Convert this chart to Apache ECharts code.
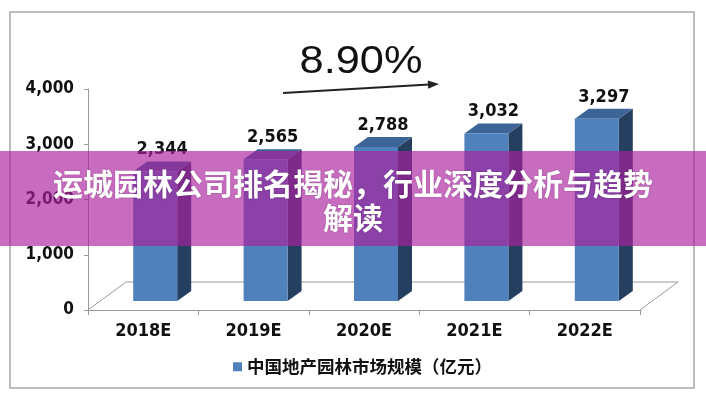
<!DOCTYPE html>
<html>
<head>
<meta charset="utf-8">
<style>
  html, body { margin: 0; padding: 0; background: #fff; }
  #chart { width: 706px; height: 400px; }
</style>
<script src="https://cdn.jsdelivr.net/npm/echarts@6/dist/echarts.min.js"></script>
</head>
<body>
<div id="chart"></div>
<script>
  // 数据
  const categories = ['2018E', '2019E', '2020E', '2021E', '2022E'];
  const marketSize = [2344, 2565, 2788, 3032, 3297];
  const seriesName = '中国地产园林市场规模（亿元）';
  const growthText = '8.90%';
  const titleLines = ['运城园林公司排名揭秘，行业深度分析与趋势', '解读'];

  const numFont = "'DejaVu Sans Condensed', 'Liberation Sans', sans-serif";
  const cjkFont = "'Noto Sans CJK SC', sans-serif";

  const myChart = echarts.init(document.getElementById('chart'));

  const fmt = function (v) {
    return String(v).replace(/\B(?=(\d{3})+(?!\d))/g, ',');
  };

  // 3D柱子
  const renderBar = function (params, api) {
    const idx = api.value(0);
    const v = api.value(1);
    const base = api.coord([idx, 0]);
    const top = api.coord([idx, v]);
    const bw = 44, dx = 14, dy = 10, lift = 9, shift = 12;
    const cx = base[0] + shift;
    const x0 = cx - bw / 2, x1 = cx + bw / 2;
    const yb = base[1] - lift, yt = top[1] - lift;
    return {
      type: 'group',
      children: [
        { type: 'polygon', shape: { points: [[x1, yt], [x1 + dx, yt - dy], [x1 + dx, yb - dy], [x1, yb]] }, style: { fill: '#253f61' } },
        { type: 'polygon', shape: { points: [[x0, yt], [x1, yt], [x1 + dx, yt - dy], [x0 + dx, yt - dy]] }, style: { fill: '#3d6497' } },
        { type: 'rect', shape: { x: x0, y: yt, width: bw, height: yb - yt }, style: { fill: '#4f81bd' } },
        {
          type: 'text',
          style: {
            text: fmt(v), x: (x0 + x1 + dx) / 2, y: yt - dy - 12,
            align: 'center', verticalAlign: 'middle',
            font: 'bold 18px ' + numFont, fill: '#111'
          }
        }
      ]
    };
  };

  // 地板
  const renderFloor = function (params, api) {
    const cs = params.coordSys;
    const bx = cs.x, by = cs.y + cs.height, w = cs.width;
    const fdx = 38, fdy = 28;
    return {
      type: 'polyline',
      shape: { points: [[bx, by], [bx + fdx, by - fdy], [bx + w + fdx, by - fdy], [bx + w, by]] },
      style: { stroke: '#9a9a9a', lineWidth: 1, fill: null },
      silent: true
    };
  };

  const option = {
    backgroundColor: '#fff',
    animation: false,
    grid: { left: 88, right: 66, top: 89, bottom: 90 },
    legend: {
      data: [{ name: seriesName, icon: 'rect' }],
      left: 228,
      top: 353,
      itemWidth: 9,
      itemHeight: 9,
      itemGap: 5,
      textStyle: { fontSize: 17.5, fontWeight: 'bold', color: '#111', fontFamily: cjkFont }
    },
    xAxis: {
      type: 'category',
      data: categories,
      axisLine: { lineStyle: { color: '#9a9a9a', width: 1 } },
      axisTick: { show: true, length: 5, lineStyle: { color: '#9a9a9a' } },
      axisLabel: { margin: 12, fontSize: 18, fontWeight: 'bold', color: '#111', fontFamily: numFont },
      splitLine: { show: false }
    },
    yAxis: {
      type: 'value',
      min: 0,
      max: 4000,
      interval: 1000,
      axisLine: { show: true, lineStyle: { color: '#9a9a9a', width: 1 } },
      axisTick: { show: true, length: 4, lineStyle: { color: '#9a9a9a' } },
      axisLabel: {
        margin: 14, fontSize: 17, fontWeight: 'bold', color: '#111', fontFamily: numFont,
        formatter: function (v) { return fmt(v); }
      },
      splitLine: { show: false }
    },
    series: [
      {
        name: 'floor',
        type: 'custom',
        renderItem: renderFloor,
        data: [[0, 0]],
        silent: true,
        z: 1
      },
      {
        name: seriesName,
        type: 'custom',
        renderItem: renderBar,
        itemStyle: { color: '#4f81bd' },
        encode: { x: 0, y: 1 },
        data: marketSize.map(function (v, i) { return [i, v]; }),
        z: 2
      }
    ],
    graphic: [
      {
        type: 'rect', z: 0,
        shape: { x: 10, y: 12, width: 684, height: 376 },
        style: { fill: null, stroke: '#a6a6a6', lineWidth: 1.5 }
      },
      {
        type: 'text', z: 50,
        x: 361, y: 63, scaleX: 1.14,
        style: {
          text: growthText, x: 0, y: 0, align: 'center', verticalAlign: 'middle',
          font: 'normal 38px "Liberation Sans", Arial, sans-serif', fill: '#111'
        }
      },
      {
        type: 'line', z: 50,
        shape: { x1: 283, y1: 93, x2: 429, y2: 84.6 },
        style: { stroke: '#222', lineWidth: 2 }
      },
      {
        type: 'polygon', z: 50,
        shape: { points: [[439, 84], [428.2, 88.8], [427.7, 80.4]] },
        style: { fill: '#222' }
      },
      {
        type: 'rect', z: 100,
        shape: { x: 0, y: 151, width: 706, height: 95 },
        style: { fill: 'rgba(172, 32, 160, 0.66)' }
      },
      {
        type: 'text', z: 101,
        style: {
          text: titleLines[0], x: 353, y: 184, align: 'center', verticalAlign: 'middle',
          font: 'bold 30px ' + cjkFont, fill: '#fff',
          textShadowColor: 'rgba(0,0,0,0.25)', textShadowBlur: 2
        }
      },
      {
        type: 'text', z: 101,
        style: {
          text: titleLines[1], x: 353, y: 218, align: 'center', verticalAlign: 'middle',
          font: 'bold 30px ' + cjkFont, fill: '#fff',
          textShadowColor: 'rgba(0,0,0,0.25)', textShadowBlur: 2
        }
      }
    ]
  };

  myChart.setOption(option);
</script>
</body>
</html>
